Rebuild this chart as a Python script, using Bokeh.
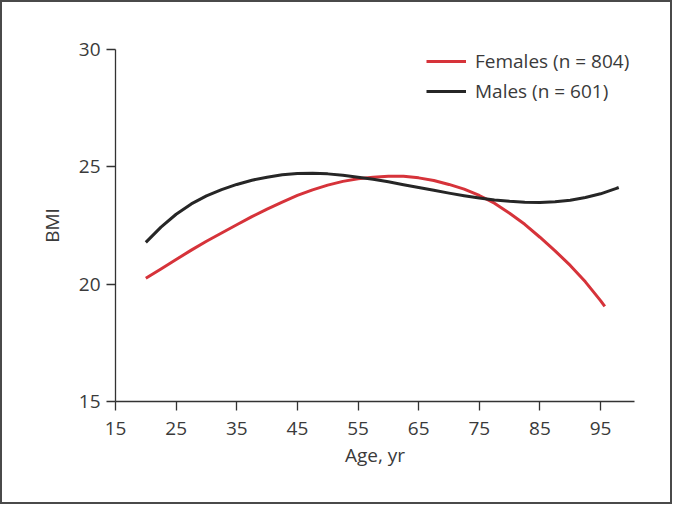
from bokeh.plotting import figure
from bokeh.models import Range1d, FixedTicker, Legend, LegendItem, ColumnDataSource
from bokeh.embed import file_html
from bokeh.resources import INLINE

# Data
female_age = [20, 22.5, 25, 27.5, 30, 32.5, 35, 37.5, 40, 42.5, 45, 47.5, 50, 52.5, 55, 57.5,
              60, 62.5, 65, 67.5, 70, 72.5, 75, 77.5, 80, 82.5, 85, 87.5, 90, 92.5, 95, 95.7]
female_bmi = [20.25, 20.65, 21.05, 21.45, 21.83, 22.18, 22.53, 22.88, 23.20, 23.50, 23.78,
              24.02, 24.22, 24.38, 24.49, 24.56, 24.60, 24.60, 24.53, 24.42, 24.25, 24.05,
              23.78, 23.45, 23.02, 22.55, 22.00, 21.42, 20.80, 20.10, 19.30, 19.05]
male_age = [20, 22.5, 25, 27.5, 30, 32.5, 35, 37.5, 40, 42.5, 45, 47.5, 50, 52.5, 55, 57.5,
            60, 62.5, 65, 67.5, 70, 72.5, 75, 77.5, 80, 82.5, 85, 87.5, 90, 92.5, 95, 97.5, 98]
male_bmi = [21.78, 22.43, 22.98, 23.42, 23.76, 24.03, 24.25, 24.43, 24.56, 24.66, 24.72,
            24.73, 24.70, 24.64, 24.56, 24.47, 24.36, 24.24, 24.12, 24.00, 23.88, 23.77,
            23.67, 23.59, 23.53, 23.49, 23.48, 23.51, 23.58, 23.69, 23.85, 24.07, 24.12]
x_ticks = [15, 25, 35, 45, 55, 65, 75, 85, 95]
y_ticks = [15, 20, 25, 30]
female_label = "Females (n = 804)"
male_label = "Males (n = 601)"

FONT = "Open Sans"
FS = "19px"
TXT = "#3a3a3a"
AX = "#333333"

p = figure(width=672, height=504, output_backend="svg", toolbar_location=None,
           x_range=Range1d(15, 100.6), y_range=Range1d(15, 30),
           min_border_left=113, min_border_right=40, min_border_top=47, min_border_bottom=105)
p.styles = {"border": "2px solid #4a4a4a"}
p.outline_line_color = None
p.xgrid.grid_line_color = None
p.ygrid.grid_line_color = None
p.background_fill_color = "white"
p.border_fill_color = "white"

for ax in (p.xaxis[0], p.yaxis[0]):
    ax.axis_line_color = AX
    ax.axis_line_width = 1.3
    ax.major_tick_line_color = AX
    ax.major_tick_line_width = 1.3
    ax.major_tick_out = 9
    ax.major_tick_in = 0
    ax.minor_tick_line_color = None
    ax.major_label_text_font = FONT
    ax.major_label_text_font_size = FS
    ax.major_label_text_color = TXT
    ax.axis_label_text_font = FONT
    ax.axis_label_text_font_size = FS
    ax.axis_label_text_color = TXT
    ax.axis_label_text_font_style = "normal"

p.xaxis[0].ticker = FixedTicker(ticks=x_ticks)
p.yaxis[0].ticker = FixedTicker(ticks=y_ticks)
p.xaxis[0].axis_label = "Age, yr"
p.yaxis[0].axis_label = "BMI"
p.xaxis[0].major_label_standoff = 11
p.yaxis[0].major_label_standoff = 6
p.xaxis[0].axis_label_standoff = 4
p.yaxis[0].axis_label_standoff = 11

fsrc = ColumnDataSource(dict(x=female_age, y=female_bmi))
msrc = ColumnDataSource(dict(x=male_age, y=male_bmi))
rf = p.line("x", "y", source=fsrc, line_color="#d6333a", line_width=3, line_join="round")
rm = p.line("x", "y", source=msrc, line_color="#262626", line_width=3, line_join="round")

legend = Legend(items=[LegendItem(label=female_label, renderers=[rf]),
                       LegendItem(label=male_label, renderers=[rm])],
                location=(311, 295), orientation="vertical",
                glyph_width=40, glyph_height=30, label_height=30, spacing=0,
                label_standoff=9, padding=0, margin=0,
                border_line_color=None, background_fill_alpha=0,
                label_text_font=FONT, label_text_font_size=FS, label_text_color=TXT)
p.add_layout(legend, "center")

open("out.html", "w").write(file_html(p, INLINE))
